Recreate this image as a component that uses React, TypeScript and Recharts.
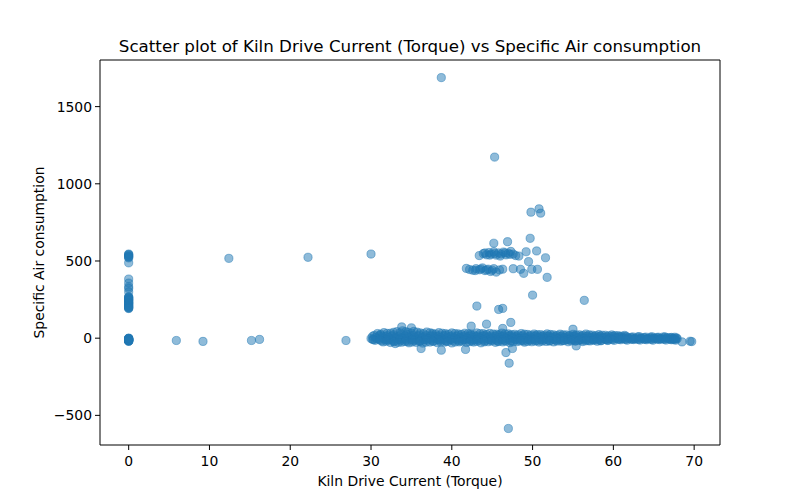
import { ScatterChart, Scatter, XAxis, YAxis, ReferenceArea } from "recharts";

type Pt = [number, number];

const xTicks = [0, 10, 20, 30, 40, 50, 60, 70];
const yTicks = [-500, 0, 500, 1000, 1500];

// readings with kiln drive current at 0
const zeroTorqueAir = [
  545, 538, 532, 526, 520, 488, 383, 357, 333, 322, 300, 268, 262, 255, 248,
  241, 236, 230, 224, 218, 212, 205, 198, 192, 265, 260, 250, 245, 232, 226,
  215, 208, 200, 195, 542, 528, -20, -16, -12, -8, -4, 0, -14, -10, -6, -18,
  -2, -15, -19, -7, -11, -3, -17, -9, -13, -1,
];

const lowTorque: Pt[] = [
  [5.9, -15], [9.2, -21], [15.2, -15], [16.2, -8], [26.9, -15],
  [12.4, 517], [22.2, 524], [30.0, 545],
];

const bandTop: Pt[] = [
  [30.8, 30], [31.6, 36], [32.4, 32], [33.2, 42], [33.9, 48], [34.6, 38],
  [35.3, 44], [36.1, 34], [36.9, 40], [37.6, 31], [38.4, 36], [39.2, 30],
  [40.0, 34], [40.8, 28], [41.6, 32], [42.3, 27], [43.1, 34], [43.9, 29],
  [44.7, 31], [45.5, 26], [46.2, 33], [47.0, 28], [47.8, 25], [48.6, 30],
  [49.4, 24], [50.2, 27], [51.0, 23], [51.8, 28], [52.6, 22], [53.4, 26],
  [54.2, 21], [55.0, 25], [55.8, 22], [56.6, 27], [57.4, 20], [58.2, 23],
  [59.0, 19], [59.8, 21], [60.6, 16], [61.4, 18],
  [31.2, 26], [32.0, 31], [32.8, 38], [33.6, 35], [34.3, 42], [35.0, 33],
  [35.7, 39], [36.5, 29], [37.3, 35], [38.0, 27], [38.8, 32], [39.6, 25],
  [40.4, 30], [41.2, 24], [42.0, 29], [42.7, 22], [43.5, 30], [44.3, 24],
  [45.1, 27], [45.9, 22], [46.6, 28], [47.4, 23], [48.2, 21], [49.0, 26],
  [49.8, 20], [50.6, 23], [51.4, 19], [52.2, 24], [53.0, 18], [53.8, 22],
  [54.6, 17], [55.4, 21], [56.2, 18], [57.0, 22], [57.8, 16], [58.6, 19],
  [59.4, 15], [60.2, 17], [61.0, 13],
];

const bandCore: Pt[] = [
  [30.4, 18], [31.2, 20], [32.0, 16], [32.8, 22], [33.6, 19], [34.4, 24],
  [35.2, 18], [36.0, 21], [36.8, 17], [37.6, 22], [38.4, 16], [39.2, 20],
  [40.0, 15], [40.8, 19], [41.6, 16], [42.4, 20], [43.2, 15], [44.0, 18],
  [44.8, 14], [45.6, 19], [46.4, 15], [47.2, 17], [48.0, 13], [48.8, 17],
  [49.6, 12], [50.4, 16], [51.2, 13], [52.0, 15], [52.8, 11], [53.6, 14],
  [54.4, 12], [55.2, 15], [56.0, 11], [56.8, 14], [57.6, 10], [58.4, 13],
  [59.2, 9], [60.0, 12], [60.8, 9], [61.6, 11], [62.4, 8], [63.2, 10],
  [64.0, 7], [64.8, 9], [65.6, 6], [66.4, 8], [67.2, 5], [67.8, 2],
  [30.2, -8], [31.0, -6], [31.8, -10], [32.6, -4], [33.4, -8], [34.2, -3],
  [35.0, -9], [35.8, -5], [36.6, -10], [37.4, -4], [38.2, -8], [39.0, -3],
  [39.8, -9], [40.6, -5], [41.4, -10], [42.2, -4], [43.0, -8], [43.8, -3],
  [44.6, -9], [45.4, -5], [46.2, -10], [47.0, -4], [47.8, -8], [48.6, -3],
  [49.4, -9], [50.2, -5], [51.0, -10], [51.8, -4], [52.6, -8], [53.4, -3],
  [54.2, -9], [55.0, -5], [55.8, -9], [56.6, -4], [57.4, -8], [58.2, -3],
  [59.0, -8], [59.8, -4], [60.6, -7], [61.4, -3], [62.2, -7], [63.0, -4],
  [63.8, -7], [64.6, -3], [65.4, -6], [66.2, -4], [67.0, -7], [67.7, -5],
];

const bandUpper: Pt[] = [
  [30.2, 12], [31.0, 15], [31.8, 10], [32.6, 14], [33.4, 9], [34.2, 16],
  [35.0, 11], [35.8, 14], [36.6, 8], [37.4, 13], [38.2, 10], [39.0, 15],
  [39.8, 9], [40.6, 12], [41.4, 8], [42.2, 14], [43.0, 10], [43.8, 13],
  [44.6, 7], [45.4, 12], [46.2, 9], [47.0, 14], [47.8, 8], [48.6, 11],
  [49.4, 7], [50.2, 12], [51.0, 9], [51.8, 13], [52.6, 8], [53.4, 10],
  [54.2, 6], [55.0, 11], [55.8, 8], [56.6, 12], [57.4, 7], [58.2, 9],
  [59.0, 5], [59.8, 10], [60.6, 7], [61.4, 9], [62.2, 5], [63.0, 8],
  [63.8, 4], [64.6, 7], [65.4, 5], [66.2, 8], [67.0, 4], [67.6, 6],
  [30.6, 5], [31.4, 8], [32.2, 3], [33.0, 7], [33.8, 2], [34.6, 9],
  [35.4, 4], [36.2, 6], [37.0, 1], [37.8, 8], [38.6, 3], [39.4, 7],
  [40.2, 2], [41.0, 5], [41.8, 0], [42.6, 6], [43.4, 3], [44.2, 8],
  [45.0, 1], [45.8, 5], [46.6, 2], [47.4, 7], [48.2, 1], [49.0, 4],
  [49.8, 0], [50.6, 6], [51.4, 2], [52.2, 5], [53.0, 1], [53.8, 3],
  [54.6, -1], [55.4, 4], [56.2, 1], [57.0, 5], [57.8, 0], [58.6, 2],
  [59.4, -2], [60.2, 3], [61.0, 0], [61.8, 2], [62.6, -2], [63.4, 1],
  [64.2, -3], [65.0, 1], [65.8, -2], [66.6, 2], [67.3, -3],
];

const bandMid: Pt[] = [
  [30.0, -2], [30.7, -5], [31.5, 0], [32.3, -6], [33.1, -1], [33.9, -4],
  [34.7, 2], [35.5, -7], [36.3, -2], [37.1, -5], [37.9, 1], [38.7, -6],
  [39.5, -3], [40.3, 0], [41.1, -5], [41.9, -2], [42.7, -7], [43.5, -1],
  [44.3, -4], [45.1, 1], [45.9, -6], [46.7, -3], [47.5, 0], [48.3, -5],
  [49.1, -2], [49.9, -6], [50.7, -1], [51.5, -4], [52.3, 0], [53.1, -5],
  [53.9, -2], [54.7, -6], [55.5, -1], [56.3, -4], [57.1, 0], [57.9, -5],
  [58.7, -2], [59.5, -6], [60.3, -1], [61.1, -4], [61.9, -2], [62.7, -5],
  [63.5, -1], [64.3, -4], [65.1, -2], [65.9, -5], [66.7, -1], [67.4, -4],
  [67.9, -3],
];

const bandLow: Pt[] = [
  [30.5, -14], [31.3, -18], [32.1, -12], [32.9, -20], [33.7, -15], [34.5, -22],
  [35.3, -16], [36.1, -19], [36.9, -13], [37.7, -18], [38.5, -14], [39.3, -20],
  [40.1, -15], [40.9, -17], [41.7, -12], [42.5, -19], [43.3, -14], [44.1, -18],
  [44.9, -13], [45.7, -20], [46.5, -15], [47.3, -17], [48.1, -12], [48.9, -18],
  [49.7, -14], [50.5, -16], [51.3, -12], [52.1, -18], [52.9, -13], [53.7, -15],
  [54.5, -11], [55.3, -17], [56.1, -13], [56.9, -15], [57.7, -11], [58.5, -16],
  [59.3, -12], [60.1, -14], [60.9, -10], [61.7, -13], [62.5, -9], [63.3, -12],
  [64.1, -10], [64.9, -13], [65.7, -9], [66.5, -12], [67.2, -10], [67.7, -13],
  [30.3, -9], [31.1, -11], [31.9, -8], [32.7, -13], [33.5, -9], [34.3, -12],
  [35.1, -10], [35.9, -14], [36.7, -8], [37.5, -11], [38.3, -9], [39.1, -13],
  [39.9, -8], [40.7, -11], [41.5, -7], [42.3, -12], [43.1, -9], [43.9, -11],
  [44.7, -8], [45.5, -13], [46.3, -9], [47.1, -11], [47.9, -7], [48.7, -12],
  [49.5, -9], [50.3, -10], [51.1, -7], [51.9, -11], [52.7, -8], [53.5, -10],
  [54.3, -6], [55.1, -11], [55.9, -8], [56.7, -9], [57.5, -6], [58.3, -10],
  [59.1, -7], [59.9, -9], [60.7, -6], [61.5, -8], [62.3, -5], [63.1, -8],
  [63.9, -6], [64.7, -8], [65.5, -5], [66.3, -7], [67.0, -6], [67.5, -8],
];

const bandBottom: Pt[] = [
  [31.5, -24], [32.4, -28], [33.0, -35], [33.8, -26], [34.7, -30], [35.6, -27],
  [36.4, -32], [37.3, -25], [38.2, -29], [39.1, -26], [40.0, -31], [40.9, -24],
  [41.8, -28], [42.7, -25], [43.6, -30], [44.5, -23], [45.4, -27], [46.3, -24],
  [47.2, -29], [48.1, -22], [49.0, -26], [49.9, -23], [50.8, -25], [51.7, -21],
  [52.6, -24], [53.5, -20], [54.4, -23], [55.3, -19], [56.2, -22], [57.1, -18],
  [58.0, -20],
  [31.9, -20], [32.8, -23], [33.4, -27], [34.2, -22], [35.1, -25], [36.0, -22],
  [36.8, -26], [37.7, -21], [38.6, -24], [39.5, -21], [40.4, -25], [41.3, -20],
  [42.2, -23], [43.1, -21], [44.0, -24], [44.9, -19], [45.8, -22], [46.7, -20],
  [47.6, -23], [48.5, -18], [49.4, -21], [50.3, -19], [51.2, -20], [52.1, -17],
  [53.0, -19], [53.9, -16], [54.8, -18], [55.7, -15], [56.6, -17], [57.5, -14],
  [58.4, -16], [59.3, -15],
];

const nearBand: Pt[] = [
  [33.8, 73], [35.0, 67], [42.4, 78], [44.3, 91], [46.3, 63], [47.3, 102],
  [55.0, 58], [36.2, -67], [38.7, -78], [41.7, -73], [46.7, -93], [47.5, -67],
  [47.1, -162], [55.4, -50], [68.5, -24], [69.5, -20], [69.7, -22],
];

const clusterUpper: Pt[] = [
  [43.4, 535], [43.9, 548], [44.3, 540], [44.6, 555], [44.9, 545], [45.2, 560],
  [45.5, 538], [45.8, 552], [46.1, 545], [46.4, 558], [46.7, 540], [47.0, 550],
  [47.3, 562], [47.6, 545], [47.9, 535], [48.3, 532], [49.2, 560], [50.5, 565],
  [51.6, 521], [49.5, 496], [45.2, 615], [46.9, 625], [49.7, 647],
  [44.1, 552], [44.7, 538], [45.3, 548], [46.0, 532], [46.6, 552], [47.2, 543],
];

const clusterLower: Pt[] = [
  [41.8, 452], [42.2, 445], [42.6, 440], [43.0, 450], [43.4, 443], [43.8, 455],
  [44.1, 438], [44.5, 447], [44.8, 432], [45.2, 450], [45.5, 428], [45.9, 442],
  [46.3, 447], [47.6, 450], [48.5, 446], [48.9, 420], [49.9, 446], [50.6, 446],
  [51.8, 394], [42.9, 438], [43.6, 448], [44.3, 442], [45.0, 440],
];

const outliers: Pt[] = [
  [50.0, 279], [56.4, 245], [43.1, 208], [45.8, 186], [46.3, 193],
  [49.8, 816], [50.8, 838], [51.0, 810], [45.3, 1173], [38.7, 1688],
  [47.0, -585],
];

const points = [
  ...zeroTorqueAir.map((y) => [0, y] as Pt),
  ...lowTorque,
  ...bandTop,
  ...bandCore,
  ...bandUpper,
  ...bandMid,
  ...bandLow,
  ...bandBottom,
  ...nearBand,
  ...clusterUpper,
  ...clusterLower,
  ...outliers,
].map(([x, y]) => ({ x, y }));

const X_DOMAIN: [number, number] = [-3.55, 73.2];
const Y_DOMAIN: [number, number] = [-692, 1802];
const BLUE = "#1f77b4";
const FONT = "DejaVu Sans, sans-serif";

const fmt = (v: number) => (v < 0 ? `\u2212${Math.abs(v)}` : `${v}`);

const Dot = (props: any) => (
  <circle
    cx={props.cx}
    cy={props.cy}
    r={4.1}
    fill={BLUE}
    fillOpacity={0.5}
    stroke={BLUE}
    strokeOpacity={0.5}
    strokeWidth={1}
  />
);

export default function App() {
  return (
    <div
      style={{
        position: "absolute",
        left: 0,
        top: 0,
        width: 800,
        height: 500,
        background: "#fff",
        fontFamily: FONT,
      }}
    >
      <div
        style={{
          position: "absolute",
          left: 0,
          top: 36,
          width: 820,
          textAlign: "center",
          fontSize: 16.7,
          lineHeight: "20px",
          color: "#000",
          whiteSpace: "nowrap",
        }}
      >
        Scatter plot of Kiln Drive Current (Torque) vs Specific Air consumption
      </div>
      <ScatterChart
        width={800}
        height={500}
        margin={{ top: 60, right: 80, bottom: 0, left: 0 }}
        style={{ fontFamily: FONT }}
      >
        <XAxis
          type="number"
          dataKey="x"
          domain={X_DOMAIN}
          ticks={xTicks}
          allowDataOverflow
          height={55}
          axisLine={false}
          tickLine={{ stroke: "#000" }}
          tickSize={5}
          tickMargin={6}
          tick={{ fill: "#000", fontSize: 13.9 }}
          label={{
            value: "Kiln Drive Current (Torque)",
            position: "insideBottom",
            offset: 14.5,
            fill: "#000",
            fontSize: 13.9,
          }}
        />
        <YAxis
          type="number"
          dataKey="y"
          domain={Y_DOMAIN}
          ticks={yTicks}
          allowDataOverflow
          width={100}
          axisLine={false}
          tickLine={{ stroke: "#000" }}
          tickSize={5}
          tickMargin={3}
          tickFormatter={fmt}
          tick={{ fill: "#000", fontSize: 13.9 }}
          label={{
            value: "Specific Air consumption",
            angle: -90,
            position: "insideLeft",
            offset: 39,
            fill: "#000",
            fontSize: 13.9,
            style: { textAnchor: "middle" },
          }}
        />
        <Scatter
          data={points}
          shape={Dot}
          isAnimationActive={false}
        />
        <ReferenceArea
          x1={X_DOMAIN[0]}
          x2={X_DOMAIN[1]}
          y1={Y_DOMAIN[0]}
          y2={Y_DOMAIN[1]}
          fill="none"
          stroke="#000"
          strokeWidth={1}
          ifOverflow="visible"
        />
      </ScatterChart>
    </div>
  );
}
